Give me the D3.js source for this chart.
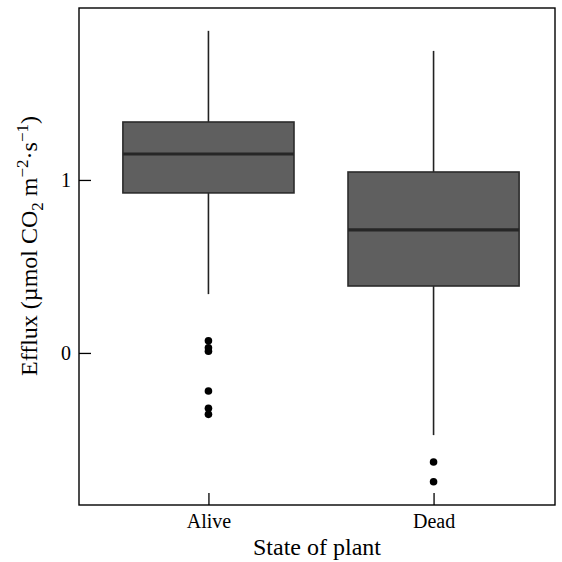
<!DOCTYPE html>
<html>
<head>
<meta charset="utf-8">
<script src="https://cdn.jsdelivr.net/npm/d3@7"></script>
<style>
  body { margin: 0; background: #fff; }
  svg text { font-family: "Liberation Serif", "DejaVu Serif", serif; fill: #000; }
  .axis path { display: none; }
  .axis line { stroke: #000; stroke-width: 1.3; }
</style>
</head>
<body>
<svg id="chart"></svg>
<script>
// data
const states = ['Alive', 'Dead'];
const whiskerLow = [0.34, -0.475];
const q1 = [0.925, 0.387];
const median = [1.15, 0.711];
const q3 = [1.335, 1.046];
const whiskerHigh = [1.862, 1.746];
const outliers = [
  [0.07, 0.03, 0.01, -0.22, -0.32, -0.355],
  [-0.63, -0.745]
];
const yTicks = [0, 1];

const config = {
  width: 562, height: 562,
  margin: {top: 8, right: 7, bottom: 57, left: 79}
};

const width = config.width - config.margin.left - config.margin.right;
const height = config.height - config.margin.top - config.margin.bottom;

const svg = d3.select('#chart')
    .attr('width', config.width)
    .attr('height', config.height);

const chart = svg.append('g')
    .attr('transform', `translate(${config.margin.left},${config.margin.top})`);

const xScale = d3.scalePoint()
    .domain(states)
    .range([0, 484])
    .padding(0.575);

const yScale = d3.scaleLinear()
    .domain([-0.879, 1.994])
    .range([height, 0]);

const boxWidth = xScale.step() * 0.76;

states.forEach((s, i) => {
  const cx = xScale(s);
  // whiskers
  chart.append('line')
      .attr('x1', cx).attr('x2', cx)
      .attr('y1', yScale(q3[i])).attr('y2', yScale(whiskerHigh[i]))
      .attr('stroke', '#222').attr('stroke-width', 1.6);
  chart.append('line')
      .attr('x1', cx).attr('x2', cx)
      .attr('y1', yScale(q1[i])).attr('y2', yScale(whiskerLow[i]))
      .attr('stroke', '#222').attr('stroke-width', 1.6);

  chart.append('rect')
      .attr('x', cx - boxWidth / 2)
      .attr('y', yScale(q3[i]))
      .attr('width', boxWidth)
      .attr('height', yScale(q1[i]) - yScale(q3[i]))
      .attr('fill', '#5f5f5f')
      .attr('stroke', '#2b2b2b')
      .attr('stroke-width', 1.6);

  chart.append('line')
      .attr('x1', cx - boxWidth / 2).attr('x2', cx + boxWidth / 2)
      .attr('y1', yScale(median[i])).attr('y2', yScale(median[i]))
      .attr('stroke', '#262626').attr('stroke-width', 3.2);

  chart.selectAll(null)
      .data(outliers[i])
      .join('circle')
      .attr('cx', cx)
      .attr('cy', d => yScale(d))
      .attr('r', 3.8)
      .attr('fill', '#000');
});

// axes, ticks pointing inwards
chart.append('g')
    .attr('class', 'axis')
    .call(d3.axisLeft(yScale).tickValues(yTicks).tickFormat(d3.format('d'))
      .tickSize(-12).tickPadding(8))
    .call(g => g.selectAll('text').attr('font-size', 20).attr('font-family', null));

chart.append('g')
    .attr('class', 'axis')
    .attr('transform', `translate(0,${height})`)
    .call(d3.axisBottom(xScale).tickSize(-12).tickPadding(9))
    .call(g => g.selectAll('text').attr('font-size', 20).attr('font-family', null));

// frame
chart.append('rect')
    .attr('width', width)
    .attr('height', height)
    .attr('fill', 'none')
    .attr('stroke', '#000')
    .attr('stroke-width', 1.4);

// axis titles
svg.append('text')
    .attr('x', config.margin.left + width / 2)
    .attr('y', 555)
    .attr('text-anchor', 'middle')
    .attr('font-size', 24)
    .text('State of plant');

const yTitle = svg.append('text')
    .attr('transform', 'translate(37,246) rotate(-90)')
    .attr('text-anchor', 'middle')
    .attr('font-size', 24);
yTitle.append('tspan').text('Efflux (µmol CO');
yTitle.append('tspan').attr('font-size', 17).attr('dy', 6).text('2');
yTitle.append('tspan').attr('dy', -6).text(' m');
yTitle.append('tspan').attr('font-size', 17).attr('dy', -9).text('−2');
yTitle.append('tspan').attr('dy', 9).text('·s');
yTitle.append('tspan').attr('font-size', 17).attr('dy', -9).text('−1');
yTitle.append('tspan').attr('dy', 9).text(')');
</script>
</body>
</html>
